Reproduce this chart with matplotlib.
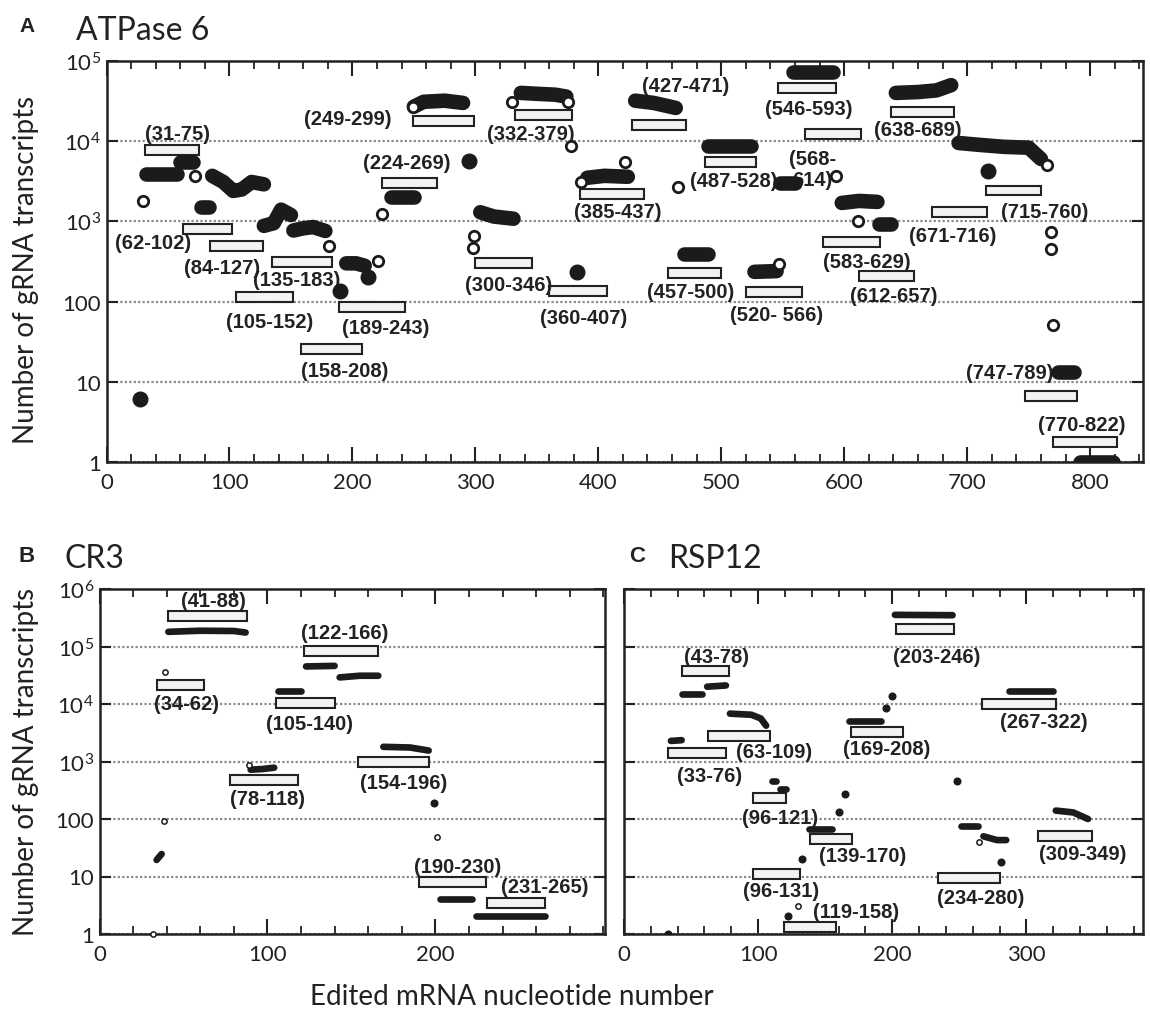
import matplotlib
matplotlib.use("Agg")
import matplotlib.pyplot as plt
from matplotlib.ticker import MultipleLocator, NullLocator, FixedLocator
import numpy as np

plt.rcParams["font.family"] = ["Lato", "DejaVu Sans"]
plt.rcParams["mathtext.fontset"] = "custom"
plt.rcParams["mathtext.rm"] = "Lato"
plt.rcParams["mathtext.it"] = "Lato:italic"
plt.rcParams["mathtext.bf"] = "Lato:bold"

# ---------------- Panel A: ATPase 6 ----------------
A_GRNA_START = [31, 62, 84, 135, 105, 158, 189, 224, 249, 332, 300, 360, 385,
                427, 457, 487, 520, 546, 568, 583, 612, 638, 671, 715, 747, 770]
A_GRNA_END = [75, 102, 127, 183, 152, 208, 243, 269, 299, 379, 346, 407, 437,
              471, 500, 528, 566, 593, 614, 629, 657, 689, 716, 760, 789, 822]
A_GRNA_COUNT = [7800, 800, 494, 310, 114, 25.6, 86, 3000, 17800, 21400, 303,
                135, 2180, 15900, 228, 5500, 132, 45600, 12400, 560, 208,
                23400, 1310, 2430, 6.6, 1.78]
A_LABELS = ["(31-75)", "(62-102)", "(84-127)", "(135-183)", "(105-152)",
            "(158-208)", "(189-243)", "(224-269)", "(249-299)", "(332-379)",
            "(300-346)", "(360-407)", "(385-437)", "(427-471)", "(457-500)",
            "(487-528)", "(520- 566)", "(546-593)", "(568-\n614)", "(583-629)",
            "(612-657)", "(638-689)", "(671-716)", "(715-760)", "(747-789)",
            "(770-822)"]
# label anchor (x in nt, y in counts)
A_LABEL_X = [58, 38, 94, 155, 133, 194, 227, 244, 196, 345, 327, 388, 416,
             471, 475, 510, 545, 571, 574, 618, 640, 660, 688, 763, 735, 793]
A_LABEL_Y = [12300, 552, 270, 186, 57, 14, 48, 5500, 19000, 12300, 162, 64,
             1340, 49000, 132, 3200, 70, 25300, 4500, 320, 118, 13800, 660,
             1310, 13.2, 2.9]

# transcript abundance traces (nt position, count)
A_TRACE_X = [[27], [32, 57], [60, 70], [77, 83],
             [86, 95, 103, 110, 118, 128], [128, 136, 142, 150],
             [152, 160, 168, 178], [190], [195, 203, 210], [213],
             [231, 250], [250, 258, 275, 290], [295], [304, 315, 331],
             [337, 350, 365, 374], [383], [391, 405, 424], [430, 445, 463],
             [470, 489], [489, 524], [527, 545], [548, 560], [558, 591],
             [598, 612, 627], [628, 638], [642, 660, 675, 687],
             [693, 710, 730, 750, 760], [717], [774, 787], [792, 819]]
A_TRACE_Y = [[6.1], [3900, 3900], [5500, 5500], [1520, 1520],
             [3700, 3100, 2400, 2500, 3100, 2900], [880, 950, 1400, 1200],
             [770, 820, 850, 760], [135], [300, 300, 280], [200],
             [2000, 2000], [27000, 31000, 32000, 30000], [5700],
             [1300, 1150, 1080], [40000, 39000, 38000, 36000], [235],
             [3500, 3700, 3600], [32000, 30000, 26000], [390, 390],
             [8700, 8700], [235, 240], [3000, 3000], [73000, 73000],
             [1700, 1800, 1750], [930, 930], [40000, 41000, 43000, 50000],
             [9500, 9000, 8500, 8300, 6000], [4300], [13.2, 13.2], [1, 1]]
A_OPEN_X = [30, 72, 181, 221, 224, 249, 299, 298, 330, 375, 378, 386, 422,
            465, 547, 593, 611, 765, 768, 768, 770]
A_OPEN_Y = [1800, 3700, 500, 320, 1240, 27000, 650, 470, 31000, 31000, 8800,
            3100, 5500, 2700, 295, 3700, 1000, 5000, 740, 450, 51]

# ---------------- Panel B: CR3 ----------------
B_GRNA_START = [41, 34, 122, 105, 78, 154, 190, 231]
B_GRNA_END = [88, 62, 166, 140, 118, 196, 230, 265]
B_GRNA_COUNT = [340000, 21400, 83000, 10500, 475, 980, 7.9, 3.46]
B_LABELS = ["(41-88)", "(34-62)", "(122-166)", "(105-140)", "(78-118)",
            "(154-196)", "(190-230)", "(231-265)"]
B_LABEL_X = [68, 52, 146, 125, 100, 181, 213, 265]
B_LABEL_Y = [620000, 10000, 178000, 4500, 223, 440, 15.2, 6.6]
B_TRACE_X = [[34, 37], [41, 60, 80, 87], [90, 97, 104], [106, 120],
             [123, 140], [143, 155, 166], [169, 185, 196], [199],
             [203, 222], [224, 265]]
B_TRACE_Y = [[19.4, 24.6], [180000, 188000, 186000, 175000], [720, 740, 780],
             [16900, 16900], [45000, 46000], [29000, 31000, 31000],
             [1800, 1750, 1550], [190], [4.1, 4.1], [2.05, 2.05]]
B_OPEN_X = [39, 38.5, 89, 201, 32]
B_OPEN_Y = [36000, 92, 870, 48, 1]

# ---------------- Panel C: RSP12 ----------------
C_GRNA_START = [203, 43, 267, 63, 33, 169, 96, 139, 309, 96, 234, 119]
C_GRNA_END = [246, 78, 322, 109, 76, 208, 121, 170, 349, 131, 280, 158]
C_GRNA_COUNT = [200000, 37500, 10000, 2770, 1400, 3250, 232, 45, 50.7, 11,
                9.4, 1.3]
C_LABELS = ["(203-246)", "(43-78)", "(267-322)", "(63-109)", "(33-76)",
            "(169-208)", "(96-121)", "(139-170)", "(309-349)", "(96-131)",
            "(234-280)", "(119-158)"]
C_LABEL_X = [233, 69, 313, 112, 64, 196, 116, 178, 342, 117, 266, 173]
C_LABEL_Y = [66000, 68000, 4900, 1470, 580, 1660, 108, 23, 25.6, 5.6, 4.4,
             2.5]
C_TRACE_X = [[202, 245], [43, 58], [62, 76], [79, 95, 102, 106], [35, 43],
             [168, 192], [195], [200], [110, 113], [116, 121], [165], [160],
             [138, 155], [133], [248], [251, 264], [268, 278, 285], [281],
             [287, 320], [322, 335, 346], [122], [33]]
C_TRACE_Y = [[355000, 350000], [14800, 14800], [20000, 21000],
             [6800, 6500, 5600, 4200], [2280, 2350], [5000, 5000], [8500],
             [13800], [460, 460], [333, 333], [270], [132], [67, 67], [20],
             [460], [76, 76], [50, 43, 43], [18], [16800, 16800],
             [140, 130, 100], [2.06], [1]]
C_OPEN_X = [265, 130]
C_OPEN_Y = [40, 3.06]

W, H = 1150, 1012
fig = plt.figure(figsize=(W / 100, H / 100), dpi=100)
INK = "#1b1b1b"
LABEL_FONT = dict(family=["Liberation Sans Narrow", "Liberation Sans", "DejaVu Sans"],
                  fontweight="bold", fontsize=14.5, color="#222222")


def px_axes(left, top, right, bottom):
    return fig.add_axes([left / W, 1 - bottom / H, (right - left) / W,
                         (bottom - top) / H])


def draw_panel(ax, xmax, xticks, ymax_exp, starts, ends, counts, labels, lx, ly,
               tx, ty, ox, oy, trace_lw, open_ms, open_mew, half, ytick_labels):
    ax.set_yscale("log")
    ax.set_xlim(0, xmax)
    ax.set_ylim(1, 10 ** ymax_exp)
    ax.set_axisbelow(True)
    ax.yaxis.grid(True, which="major", color="#8a8a8a", lw=1.6,
                  ls=(0, (1, 1)))
    # gRNA boxes, fixed height in log space
    starts = np.array(starts, float)
    ends = np.array(ends, float)
    counts = np.array(counts, float)
    f = 10 ** half
    ax.bar(starts, counts * f - counts / f, width=ends - starts,
           bottom=counts / f, align="edge", facecolor="#f3f3f3",
           edgecolor="#222222", linewidth=1.5, zorder=3)
    for s, x, y in zip(labels, lx, ly):
        ax.text(x, y, s, ha="center", va="center", zorder=3.5,
                linespacing=1.1, **LABEL_FONT)
    for xs, ys in zip(tx, ty):
        if len(xs) == 1:
            ax.plot(xs, ys, "o", color=INK, ms=trace_lw, zorder=4)
        else:
            ax.plot(xs, ys, color=INK, lw=trace_lw, solid_capstyle="round",
                    solid_joinstyle="round", zorder=4)
    ax.plot(ox, oy, "o", ms=open_ms, mfc="white", mec=INK, mew=open_mew,
            ls="none", zorder=4.5, clip_on=False)
    ax.xaxis.set_major_locator(FixedLocator(xticks))
    ax.xaxis.set_minor_locator(MultipleLocator(20))
    ax.yaxis.set_minor_locator(NullLocator())
    ax.set_yticks([10 ** k for k in range(ymax_exp + 1)])
    if ytick_labels:
        ax.set_yticklabels(ytick_labels)
    else:
        ax.set_yticklabels([])
    ax.tick_params(which="both", direction="in", top=True, right=True,
                   colors="#222222", labelsize=16, labelcolor="#222222")
    ax.tick_params(axis="x", which="major", length=11, width=1.5, pad=7)
    ax.tick_params(axis="x", which="minor", length=6, width=1.3)
    ax.tick_params(axis="y", which="major", length=8, width=1.5, pad=4)
    for sp in ax.spines.values():
        sp.set_linewidth(1.8)
        sp.set_color("#222222")


ylabs_a = ["1", "10", "100", r"$10^3$", r"$10^4$", r"$10^5$"]
ylabs_b = ylabs_a + [r"$10^6$"]

axA = px_axes(106.5, 62, 1143, 463)
draw_panel(axA, 843, [0, 100, 200, 300, 400, 500, 600, 700, 800], 5,
           A_GRNA_START, A_GRNA_END, A_GRNA_COUNT, A_LABELS,
           A_LABEL_X, A_LABEL_Y, A_TRACE_X, A_TRACE_Y, A_OPEN_X, A_OPEN_Y,
           10.5, 7.5, 2.0, 0.062, ylabs_a)

axB = px_axes(99.5, 590, 605, 935)
draw_panel(axB, 301, [0, 100, 200], 6, B_GRNA_START, B_GRNA_END,
           B_GRNA_COUNT, B_LABELS,
           B_LABEL_X, B_LABEL_Y, B_TRACE_X, B_TRACE_Y, B_OPEN_X, B_OPEN_Y,
           4.8, 3.8, 1.1, 0.087, ylabs_b)

axC = px_axes(624, 590, 1143, 935)
draw_panel(axC, 387, [0, 100, 200, 300], 6, C_GRNA_START, C_GRNA_END,
           C_GRNA_COUNT, C_LABELS,
           C_LABEL_X, C_LABEL_Y, C_TRACE_X, C_TRACE_Y, C_OPEN_X, C_OPEN_Y,
           4.8, 3.8, 1.1, 0.087, None)


def ftext(x, y, s, **kw):
    fig.text(x / W, 1 - y / H, s, **kw)


LETTER = dict(ha="center", va="center", fontweight="bold",
              family=["Liberation Sans", "DejaVu Sans"], color="#222222")
ftext(27, 27, "A", fontsize=15, **LETTER)
ftext(76, 40, "ATPase 6", ha="left", va="baseline", fontsize=23,
      color="#222222")
ftext(27, 557, "B", fontsize=16, **LETTER)
ftext(64, 568, "CR3", ha="left", va="baseline", fontsize=23, color="#222222")
ftext(637, 557, "C", fontsize=16, **LETTER)
ftext(668, 568, "RSP12", ha="left", va="baseline", fontsize=23,
      color="#222222")
ftext(26, 270, "Number of gRNA transcripts", rotation=90, ha="center",
      va="center", fontsize=20, color="#222222")
ftext(26, 762, "Number of gRNA transcripts", rotation=90, ha="center",
      va="center", fontsize=20, color="#222222")
ftext(512, 997, "Edited mRNA nucleotide number", ha="center", va="center",
      fontsize=20, color="#222222")

fig.savefig("out.png", dpi=100)
